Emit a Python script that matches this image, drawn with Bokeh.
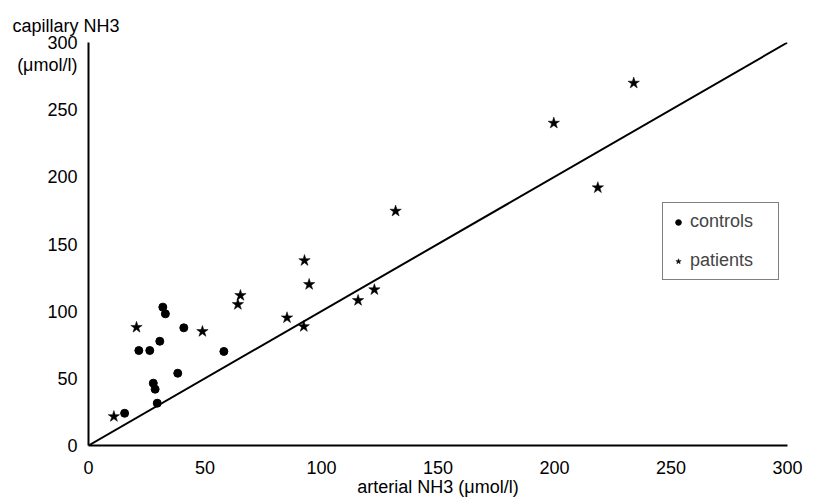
from bokeh.plotting import figure
from bokeh.models import Range1d, FixedTicker, Legend, LegendItem, LinearAxis
from bokeh.embed import file_html
from bokeh.resources import INLINE

FONT = "Liberation Sans"

# --- data ---
ticks = [0, 50, 100, 150, 200, 250, 300]

control_x = [15.5, 21.6, 26.3, 30.6, 31.9, 33.0, 40.9, 38.3, 27.8, 28.6, 29.5, 58.1]
control_y = [24.0, 70.7, 70.7, 77.6, 103.0, 98.0, 87.6, 53.8, 46.4, 41.9, 31.5, 70.0]

patient_x = [10.9, 20.6, 48.9, 65.2, 64.1, 85.2, 92.4, 92.7, 94.7, 115.7, 122.7, 131.8, 199.7, 218.6, 234.0]
patient_y = [21.6, 88.0, 84.9, 111.7, 105.0, 95.1, 88.6, 137.7, 119.9, 108.0, 116.0, 174.5, 240.0, 191.9, 269.8]

identity_x = [0, 300]
identity_y = [0, 300]

y_title = "capillary NH3"
y_unit = "(μmol/l)"
y_unit_pos = 283
x_title = "arterial NH3 (μmol/l)"

p = figure(width=812, height=500,
           x_range=Range1d(0, 300), y_range=Range1d(0, 300),
           output_backend="svg", toolbar_location=None,
           min_border_left=88, min_border_right=25,
           min_border_top=42, min_border_bottom=55)

p.grid.visible = False
p.outline_line_color = None
p.background_fill_color = "white"
p.border_fill_color = "white"

for ax in (p.xaxis[0], p.yaxis[0]):
    ax.ticker = FixedTicker(ticks=ticks)
    ax.major_tick_out = 0
    ax.major_tick_in = 0
    ax.minor_tick_out = 0
    ax.minor_tick_in = 0
    ax.axis_line_width = 2
    ax.axis_line_color = "black"
    ax.major_label_text_font = FONT
    ax.major_label_text_font_size = "18px"
    ax.major_label_text_color = "black"

p.xaxis.major_label_standoff = 15
p.xaxis.axis_label = x_title
p.xaxis.axis_label_text_font = FONT
p.xaxis.axis_label_text_font_size = "18px"
p.xaxis.axis_label_text_font_style = "normal"
p.xaxis.axis_label_text_color = "black"
p.xaxis.axis_label_standoff = 0

p.yaxis.major_label_standoff = 11

# unit text under the top y tick label
unit_axis = LinearAxis(ticker=FixedTicker(ticks=[y_unit_pos]),
                       major_label_overrides={y_unit_pos: y_unit},
                       axis_line_color=None, major_tick_line_color=None,
                       minor_tick_line_color=None,
                       major_tick_out=0, major_tick_in=0,
                       minor_tick_out=0, minor_tick_in=0,
                       major_label_standoff=-33,
                       major_label_text_font=FONT,
                       major_label_text_font_size="18px",
                       major_label_text_color="black")
p.add_layout(unit_axis, "left")

# y axis title, horizontal at top left
p.title.text = y_title
p.title.align = "left"
p.title.offset = -76
p.title.standoff = 14
p.title.text_font = FONT
p.title.text_font_size = "18px"
p.title.text_font_style = "normal"
p.title.text_color = "black"

p.line(identity_x, identity_y, line_color="black", line_width=2)

r_ctrl = p.scatter(control_x, control_y, marker="circle", size=8,
                   fill_color="black", line_color="black")
r_pat = p.scatter(patient_x, patient_y, marker="star", size=12,
                  fill_color="black", line_color="black", line_width=0.5)

legend = Legend(items=[LegendItem(label="controls", renderers=[r_ctrl]),
                       LegendItem(label="patients", renderers=[r_pat])],
                location=(574, 165), margin=0, padding=8, spacing=18,
                glyph_width=14, glyph_height=20, label_standoff=5,
                label_width=80, label_height=20,
                label_text_font=FONT, label_text_font_size="18px",
                border_line_color="black", border_line_width=1.5,
                background_fill_color="white", background_fill_alpha=1)
p.add_layout(legend)

open("out.html", "w").write(file_html(p, INLINE))
